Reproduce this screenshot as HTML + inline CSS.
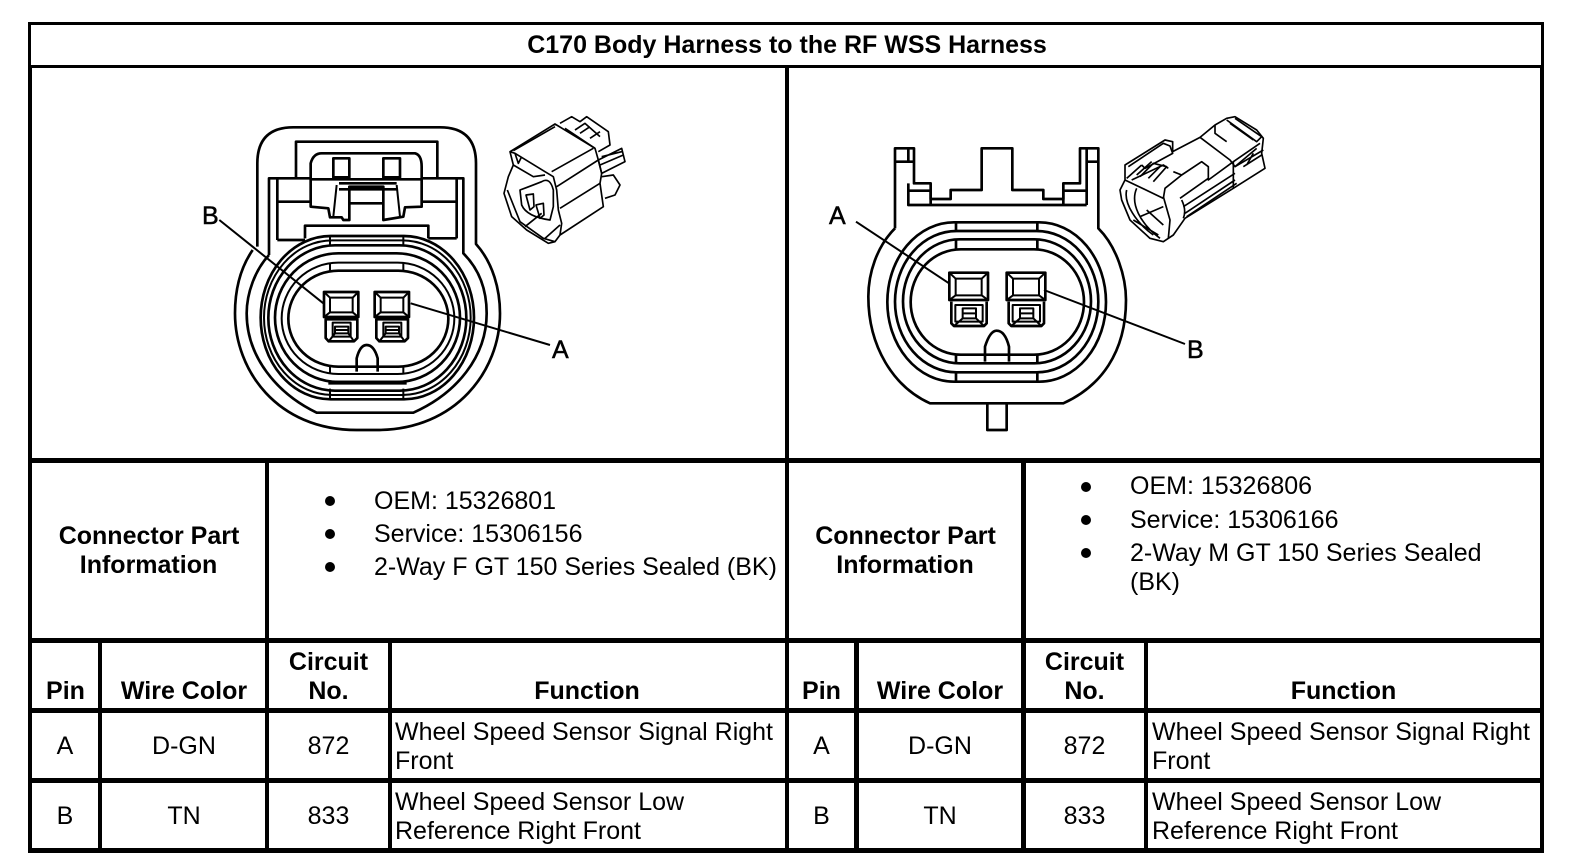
<!DOCTYPE html>
<html><head><meta charset="utf-8"><style>
html,body{margin:0;padding:0;background:#fff}
svg{display:block}
text{font-family:"Liberation Sans",Arial,sans-serif;fill:#000}
.t{font-size:25px}.b{font-size:25px;font-weight:bold}.m{text-anchor:middle}
.l{font-size:25px;stroke:#000;stroke-width:.5}
.d{fill:none;stroke:#000;stroke-width:8;stroke-linejoin:round}
.s{stroke-width:6}
.th{fill:none;stroke:#000;stroke-width:5;stroke-linejoin:round}
</style></head><body>
<svg width="1584" height="868" viewBox="0 0 1584 868" xmlns="http://www.w3.org/2000/svg">
<rect width="1584" height="868" fill="#fff"/>
<!-- grid -->
<g fill="#000">
<rect x="28" y="22" width="1516" height="3"/><rect x="28" y="65" width="1516" height="3"/>
<rect x="28" y="22" width="3" height="46"/><rect x="1541" y="22" width="3" height="46"/>
<rect x="28" y="65" width="4" height="788"/><rect x="1540" y="65" width="4" height="788"/>
<rect x="785" y="65" width="4" height="788"/>
<rect x="28" y="458" width="1516" height="5"/><rect x="28" y="638" width="1516" height="5"/>
<rect x="28" y="708" width="1516" height="5"/><rect x="28" y="778" width="1516" height="5"/>
<rect x="28" y="848" width="1516" height="5"/>
<rect x="265" y="458" width="4" height="395"/><rect x="98" y="638" width="4" height="215"/><rect x="388" y="638" width="4" height="215"/>
<rect x="1021" y="458" width="5" height="395"/><rect x="854" y="638" width="5" height="215"/><rect x="1144" y="638" width="4" height="215"/>
</g>
<text class="b m" x="787" y="53" style="font-size:25px">C170 Body Harness to the RF WSS Harness</text>

<!-- left info -->
<text class="b m" x="149" y="544">Connector Part</text><text class="b m" x="148.500" y="573">Information</text>
<circle cx="330" cy="501" r="5"/><circle cx="330" cy="534" r="5"/><circle cx="330" cy="567" r="5"/>
<text class="t" x="374" y="509">OEM: 15326801</text>
<text class="t" x="374" y="542">Service: 15306156</text>
<text class="t" x="374" y="575">2-Way F GT 150 Series Sealed (BK)</text>
<text class="b m" x="328.500" y="670">Circuit</text><text class="b m" x="328.500" y="699">No.</text>
<text class="b m" x="65.500" y="699">Pin</text><text class="b m" x="184" y="699">Wire Color</text><text class="b m" x="587" y="699">Function</text>
<text class="t m" x="65" y="754">A</text><text class="t m" x="184" y="754">D-GN</text><text class="t m" x="328.500" y="754">872</text>
<text class="t" x="395" y="740">Wheel Speed Sensor Signal Right</text><text class="t" x="395" y="769">Front</text>
<text class="t m" x="65" y="824">B</text><text class="t m" x="184" y="824">TN</text><text class="t m" x="328.500" y="824">833</text>
<text class="t" x="395" y="810">Wheel Speed Sensor Low</text><text class="t" x="395" y="839">Reference Right Front</text>

<!-- right info -->
<text class="b m" x="905.500" y="544">Connector Part</text><text class="b m" x="905" y="573">Information</text>
<circle cx="1086" cy="487" r="5"/><circle cx="1086" cy="520" r="5"/><circle cx="1086" cy="553" r="5"/>
<text class="t" x="1130" y="494">OEM: 15326806</text>
<text class="t" x="1130" y="528">Service: 15306166</text>
<text class="t" x="1130" y="561">2-Way M GT 150 Series Sealed</text>
<text class="t" x="1130" y="590">(BK)</text>
<text class="b m" x="1084.500" y="670">Circuit</text><text class="b m" x="1084.500" y="699">No.</text>
<text class="b m" x="821.500" y="699">Pin</text><text class="b m" x="940" y="699">Wire Color</text><text class="b m" x="1343.500" y="699">Function</text>
<text class="t m" x="821.500" y="754">A</text><text class="t m" x="940" y="754">D-GN</text><text class="t m" x="1084.500" y="754">872</text>
<text class="t" x="1152" y="740">Wheel Speed Sensor Signal Right</text><text class="t" x="1152" y="769">Front</text>
<text class="t m" x="821.500" y="824">B</text><text class="t m" x="940" y="824">TN</text><text class="t m" x="1084.500" y="824">833</text>
<text class="t" x="1152" y="810">Wheel Speed Sensor Low</text><text class="t" x="1152" y="839">Reference Right Front</text>

<!-- left connector -->
<g transform="translate(200 100) scale(.33333)">
<g class="d">
<path d="M172 440V190Q172 82 280 82H720Q828 82 828 190V432C880 490 900 570 900 640C900 810 770 990 530 990H470C230 990 105 810 105 640C105 570 120 505 158 450"/>
<path d="M207 465V235H332M665 235H790V460C840 510 860 570 860 640C860 770 770 880 640 938H350C230 880 140 770 140 640C140 580 165 510 207 465"/>
<path d="M288 235V125H712V235"/>
<path d="M332 320V190Q340 160 365 160H645Q665 165 665 200V320L615 322L610 350L550 360V260H448V360H430L425 352L390 352L385 325Z"/>
<path d="M400 175H448V232H400ZM550 175H600V232H550Z"/>
<path d="M332 238H665M417 250H590M417 268H590M448 310H550" />
<path d="M410 255L400 350M590 255L600 350" class="d s"/>
<path d="M232 235V420M770 235V415M232 305H332M665 305H770M232 420H315M685 415H770M315 415V377H685V415"/>
<rect x="182" y="408" width="640" height="490" rx="210" ry="245"/>
<rect x="192" y="421" width="620" height="464" rx="205" ry="232" class="d s"/>
<rect x="205" y="436" width="594" height="436" rx="200" ry="218"/>
<rect x="225" y="460" width="555" height="386" rx="190" ry="193"/>
<rect x="245" y="488" width="518" height="334" rx="170" ry="167" class="d s"/>
<rect x="265" y="512" width="480" height="288" rx="150" ry="144"/>
<path d="M390 408V436M610 408V436M390 488V512M610 488V512M390 800V822M610 800V822M390 866V898M610 866V898" class="d s"/>
<path d="M385 848H620" stroke-width="12"/>
<path d="M470 815V775Q480 735 500 735Q522 735 533 775V815"/>
<!-- pins -->
<g><rect x="372" y="576" width="103" height="75"/><rect x="390" y="593" width="68" height="44" class="d s"/>
<path d="M372 576L390 593M475 576L458 593M372 651L390 637M475 651L458 637" class="d s"/>
<path d="M377 658V714L386 724H462L472 714V658Z"/><path d="M398 668H452V710H398ZM405 680H445V700H405ZM405 690H445M386 724L405 700M462 724L445 700" class="d s"/></g>
<g transform="translate(152 0)"><rect x="372" y="576" width="103" height="75"/><rect x="390" y="593" width="68" height="44" class="d s"/>
<path d="M372 576L390 593M475 576L458 593M372 651L390 637M475 651L458 637" class="d s"/>
<path d="M377 658V714L386 724H462L472 714V658Z"/><path d="M398 668H452V710H398ZM405 680H445V700H405ZM405 690H445M386 724L405 700M462 724L445 700" class="d s"/></g>
<path d="M58 360L370 610M632 610L1050 735" stroke-width="6"/>
</g>
</g>
<!-- left thumb -->
<g transform="translate(500 110) scale(.33333)" class="th">
<path d="M30 125L165 42L285 115L295 150L305 190L300 220L310 290L180 375L165 395L145 400L80 360L35 320L12 250L25 200L40 165Z"/>
<path d="M40 122L165 50M180 40L215 20L240 35L260 20L325 65L330 105L295 125M195 55L285 115M225 60L255 40L300 80M240 70L270 50M270 85L300 65"/>
<path d="M295 150L365 115L375 155L305 190ZM305 140L365 125M300 165L370 135"/>
<path d="M305 200L340 195L360 225L345 255L315 265"/>
<path d="M30 125L45 130L135 185L160 200L170 240L175 300L185 340L180 375M45 130L55 160L65 140M40 165L100 200L135 195M155 185L280 115M170 230L295 150M180 295L300 220"/>
<path d="M60 240Q100 225 125 215Q150 200 160 240V290L150 330Q80 320 65 285Z"/>
<path d="M78 255L100 252L102 290L90 300ZM108 285L130 280L132 315L120 325Z"/>
<path d="M22 240L60 335L130 385L165 395M75 350L125 310M135 385L180 345"/>
</g>
<text class="l" x="202" y="224">B</text>
<text class="l" x="552" y="358">A</text>

<!-- right connector -->
<g transform="translate(840 120) scale(.33333)">
<g class="d">
<path d="M165 325V85H222V190H272V237H332V210H425V85H517V210H610V237H670V190H720V85H775V325C830 380 858 470 858 540C858 700 780 800 670 850H270C160 800 85 680 85 530C85 460 110 380 165 325"/>
<path d="M205 85V125M165 125H222M740 85V255M740 125H775M205 190V255H740M205 212H272M272 212V255M670 212H740M670 212V255"/>
<path d="M442 850V930H500V850"/>
<rect x="142" y="307" width="656" height="478" rx="200" ry="239"/>
<rect x="165" y="333" width="610" height="424" rx="185" ry="212"/>
<rect x="189" y="358" width="564" height="372" rx="170" ry="186"/>
<rect x="212" y="388" width="520" height="316" rx="150" ry="158"/>
<path d="M348 307V333M592 307V333M348 358V388M592 358V388M348 704V730M592 704V730M348 757V785M592 757V785"/>
<path d="M435 725V680Q450 632 470 632Q495 632 507 680V725"/>
<g><rect x="328" y="458" width="116" height="82"/><rect x="347" y="476" width="78" height="50" class="d s"/>
<path d="M328 458L347 476M444 458L425 476M328 540L347 526M444 540L425 526" class="d s"/>
<path d="M334 545V610L342 618H432L440 610V545"/><path d="M346 555H428V605H346ZM368 565V595H408V565ZM368 580H408M342 618L368 595M432 618L408 595" class="d s"/></g>
<g transform="translate(172 0)"><rect x="328" y="458" width="116" height="82"/><rect x="347" y="476" width="78" height="50" class="d s"/>
<path d="M328 458L347 476M444 458L425 476M328 540L347 526M444 540L425 526" class="d s"/>
<path d="M334 545V610L342 618H432L440 610V545"/><path d="M346 555H428V605H346ZM368 565V595H408V565ZM368 580H408M342 618L368 595M432 618L408 595" class="d s"/></g>
<path d="M48 305L327 490M612 510L1035 672" stroke-width="6"/>
</g>
</g>
<!-- right thumb -->
<g transform="translate(1120 110) scale(.33333)" class="th">
<path d="M15 165L135 90L158 95V125L240 82L285 45L320 25L345 20L410 60L430 85L425 130L435 175L340 235L195 325L160 375L130 395L90 385L30 330L5 270L0 240L15 210Z"/>
<path d="M25 170L130 100L150 108L158 130L75 175L65 165M20 205L65 165M35 210L130 165L145 175M15 210L130 265M130 265L135 235L185 195L245 155L265 170V210L340 155L420 100M160 185L185 195"/>
<path d="M240 82L330 150L345 170L410 115M320 30L410 95L425 80L345 25M330 40L400 90M285 45V70L320 95"/>
<path d="M60 200L100 160L140 170L100 215M85 205L120 170M50 195L95 155"/>
<path d="M180 265L265 205M195 310L345 210M200 320L350 220M190 290L345 190M340 155V235M345 170L430 120M370 170L425 135M380 165L400 130"/>
<path d="M130 260L150 330L145 385M185 270Q200 300 190 325M20 240C10 280 50 340 100 375M50 235C30 280 60 340 120 385M60 320L130 290M40 330L115 375M80 300L130 345"/>
</g>
<text class="l" x="829" y="224">A</text>
<text class="l" x="1187" y="358">B</text>
</svg>
</body></html>
